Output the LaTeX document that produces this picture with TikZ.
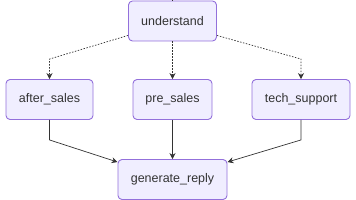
\documentclass[tikz,border=0pt]{standalone}
\usepackage{fontspec}
\setmainfont{Liberation Sans}
\usetikzlibrary{arrows.meta}
\definecolor{boxfill}{HTML}{F0EEFF}
\definecolor{boxline}{HTML}{9370DB}
\definecolor{ink}{HTML}{333333}

\begin{document}
\begin{tikzpicture}[x=1pt,y=-1pt,line width=.9pt,
  state/.style={draw=boxline,fill=boxfill,rounded corners=4pt,minimum height=40pt,inner sep=0pt,text=ink,font=\fontsize{12.5}{15}\selectfont},
  flow/.style={draw=ink,line width=.7pt,-{Stealth[length=6pt,width=6pt]}},
  maybe/.style={flow,dash pattern=on 1.5pt off 1.5pt}]
\useasboundingbox (0,0) rectangle (356,200);
\node[state,minimum width=88pt] (U) at (172.5,21) {understand};
\node[state,minimum width=87pt] (A) at (49.5,99.5) {after\_sales};
\node[state,minimum width=79pt] (P) at (172.5,99.5) {pre\_sales};
\node[state,minimum width=98pt] (T) at (301,99.5) {tech\_support};
\node[state,minimum width=109pt] (G) at (172.5,179.5) {generate\_reply};
\coordinate (top) at (172.5,0); \coordinate (bot) at (172.5,200);
\draw[ink,line width=.7pt] (top)--(U); \draw[ink,line width=.7pt] (G)--(bot);
% from understand
\draw[maybe] ([yshift=6pt]U.south west) -- ([yshift=20pt]A.north) -- (A);
\draw[maybe] (U) -- (P);
\draw[maybe] ([yshift=6pt]U.south east) -- ([yshift=20pt]T.north) -- (T);
% into generate_reply
\draw[flow] (A) -- ([yshift=-20pt]A.south) -- ([yshift=-3pt]G.north west);
\draw[flow] (P) -- (G);
\draw[flow] (T) -- ([yshift=-20pt]T.south) -- ([yshift=-3pt]G.north east);
\end{tikzpicture}
\end{document}
